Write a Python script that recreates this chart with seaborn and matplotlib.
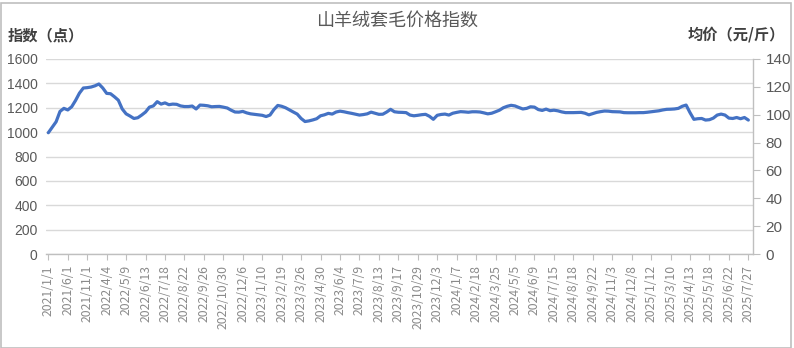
import matplotlib
matplotlib.use("Agg")
import matplotlib.pyplot as plt
import seaborn as sns
import pandas as pd
from matplotlib.patches import Rectangle

# ---- data ----
title = "山羊绒套毛价格指数"
left_label = "指数（点）"
right_label = "均价（元/斤）"

tick_labels = [
    "2021/1/1", "2021/6/1", "2021/11/1", "2022/4/4", "2022/5/9", "2022/6/13",
    "2022/7/18", "2022/8/22", "2022/9/26", "2022/10/30", "2022/12/6", "2023/1/10",
    "2023/2/19", "2023/3/26", "2023/4/30", "2023/6/4", "2023/7/9", "2023/8/13",
    "2023/9/17", "2023/10/29", "2023/12/3", "2024/1/7", "2024/2/18", "2024/3/25",
    "2024/5/5", "2024/6/9", "2024/7/15", "2024/8/18", "2024/9/22", "2024/11/3",
    "2024/12/8", "2025/1/12", "2025/3/10", "2025/4/13", "2025/5/18", "2025/6/22",
    "2025/7/27",
]
label_step = 5

index_values = [
    995, 1040, 1085, 1170, 1195, 1182, 1208, 1260, 1320, 1362,
    1365, 1370, 1380, 1395, 1362, 1318, 1315, 1290, 1262, 1190,
    1150, 1132, 1112, 1118, 1140, 1165, 1205, 1215, 1250, 1230,
    1240, 1225, 1230, 1228, 1215,
    1210, 1210, 1214, 1190, 1222, 1220, 1216, 1208, 1210, 1211,
    1205, 1198, 1180, 1165, 1164, 1170, 1158, 1150, 1146, 1142,
    1138, 1128, 1140, 1185, 1219, 1212, 1200, 1182, 1165, 1148,
    1112, 1087, 1092, 1100, 1110, 1134, 1142,
    1154, 1148, 1165, 1172, 1167, 1160, 1154, 1147, 1140, 1144,
    1150, 1164, 1155, 1146, 1147, 1165, 1187, 1167, 1163, 1162,
    1160, 1140, 1134, 1138, 1143, 1146, 1130, 1105, 1138, 1145,
    1148, 1140, 1155, 1162, 1168, 1166,
    1163, 1167, 1167, 1165, 1158, 1150, 1155, 1167, 1180, 1200,
    1212, 1220, 1215, 1202, 1190, 1195, 1208, 1205, 1185, 1178,
    1189, 1176, 1180, 1175, 1166, 1160, 1160, 1160, 1161, 1162,
    1155, 1142, 1152, 1162, 1168, 1173,
    1172, 1168, 1167, 1166, 1160, 1159, 1159, 1159, 1160, 1160,
    1163, 1167, 1171, 1175, 1182, 1187, 1188, 1190, 1195, 1212,
    1222, 1160, 1105, 1110, 1112, 1099, 1102, 1115, 1140, 1148,
    1140, 1115, 1112, 1120, 1110, 1120, 1099,
]

left_ticks = list(range(0, 1601, 200))
right_ticks = list(range(0, 141, 20))

# ---- style ----
sns.set_theme(style="white")
plt.rcParams["font.family"] = ["Noto Sans CJK SC", "DejaVu Sans"]

W, H = 794, 348
fig = plt.figure(figsize=(W / 100, H / 100), dpi=100)
fig.patches.append(Rectangle((0.5 / W, 0.5 / H), 1 - 3.5 / W, 1 - 3 / H,
                             transform=fig.transFigure, fill=False,
                             edgecolor="#bfbfbf", linewidth=1.2))

ax_left, ax_right_px, ax_top_px, ax_bot_px = 46, 753, 59, 254
ax = fig.add_axes([ax_left / W, (H - ax_bot_px) / H,
                   (ax_right_px - ax_left) / W, (ax_bot_px - ax_top_px) / H])

df = pd.DataFrame({"pos": range(len(index_values)), "value": index_values})
sns.lineplot(data=df, x="pos", y="value", ax=ax, color="#4472C4",
             linewidth=2.3, legend=False)

ax.set_xlim(-0.6, len(index_values) - 1 + 1.2)
ax.set_ylim(0, 1600)
ax.set_yticks(left_ticks)
ax.set_yticklabels([str(v) for v in left_ticks], family="Liberation Sans",
                   fontsize=10, color="#595959")
ax.yaxis.grid(True, color="#d9d9d9", linewidth=1)
ax.set_axisbelow(True)
ax.tick_params(axis="y", length=0, pad=6)

positions = list(range(0, len(index_values), label_step))
ax.set_xticks(positions)
ax.set_xticklabels(tick_labels, rotation=90, fontsize=8.8, color="#8a8a8a",
                   ha="center", va="top")
ax.tick_params(axis="x", length=4, width=0.8, color="#bfbfbf", pad=4,
               direction="out", bottom=True)
ax.set_xlabel("")
ax.set_ylabel("")

for side in ["left", "top", "right"]:
    ax.spines[side].set_visible(False)
ax.spines["bottom"].set_color("#bfbfbf")
ax.spines["bottom"].set_linewidth(1)

ax2 = ax.twinx()
ax2.set_ylim(0, 140)
ax2.set_yticks(right_ticks)
ax2.set_yticklabels([str(v) for v in right_ticks], family="Liberation Sans",
                    fontsize=11, color="#595959")
ax2.tick_params(axis="y", length=5, width=0.8, color="#bfbfbf", pad=4,
                direction="out")
for side in ["left", "top", "bottom"]:
    ax2.spines[side].set_visible(False)
ax2.spines["right"].set_color("#bfbfbf")
ax2.spines["right"].set_linewidth(1)
ax2.grid(False)

fig.text(397 / W, 1 - 22 / H, title, ha="center", va="center",
         fontsize=13, color="#595959")
fig.text(8 / W, 1 - 35 / H, left_label, ha="left", va="center",
         fontsize=11, color="#404040", fontweight="bold")
fig.text(785 / W, 1 - 35 / H, right_label, ha="right", va="center",
         fontsize=11, color="#404040", fontweight="bold")

fig.savefig("out.png", dpi=100)
